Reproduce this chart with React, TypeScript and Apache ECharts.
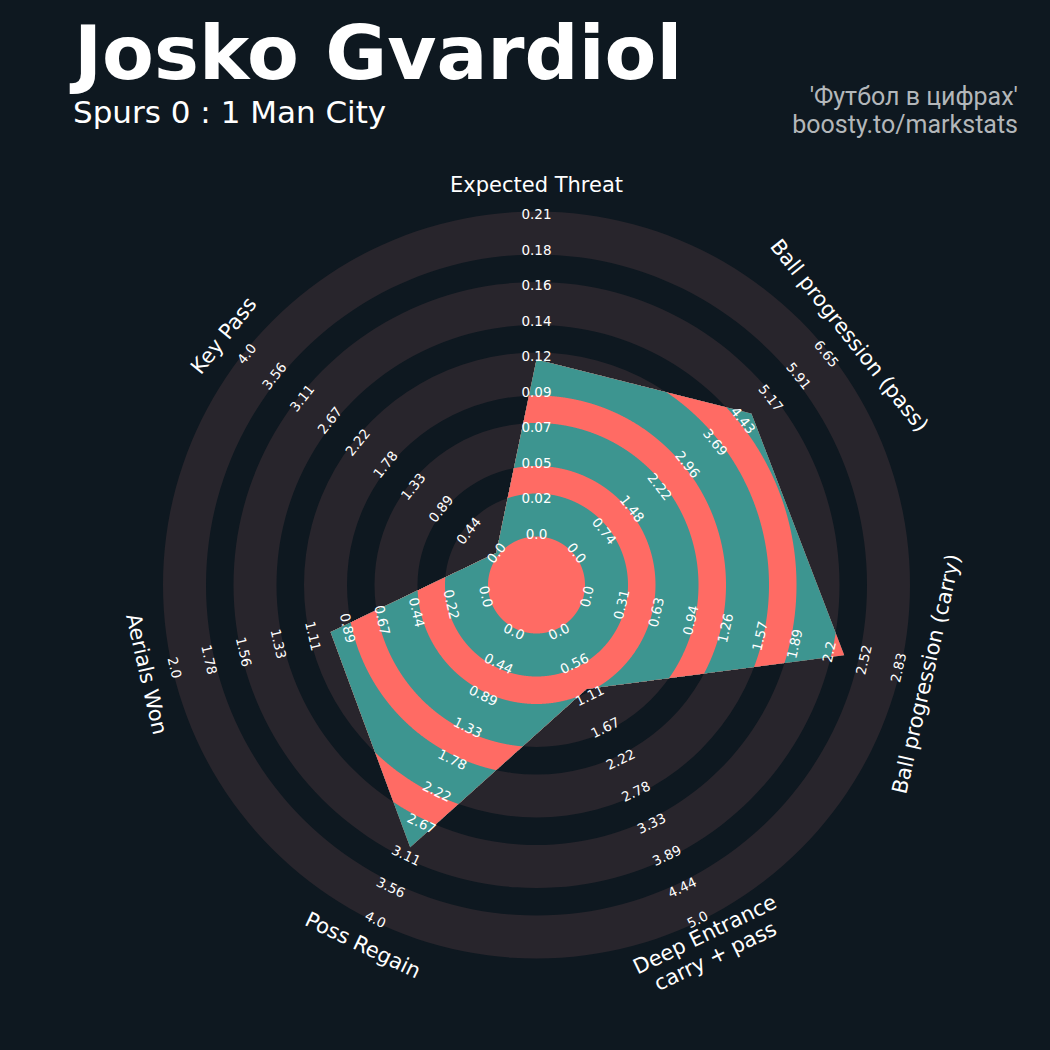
import React, { useEffect, useRef } from 'react';
import * as echarts from 'echarts';

// ---------------- data ----------------
const paramNames = [
  'Expected Threat',
  'Ball progression (pass)',
  'Ball progression (carry)',
  'Deep Entrance\ncarry + pass',
  'Poss Regain',
  'Aerials Won',
  'Key Pass',
];
const minRange = [0, 0, 0, 0, 0, 0, 0];
const maxRange = [0.2075, 6.65, 2.83, 5.0, 4.0, 2.0, 4.0];
const playerValues = [0.113, 4.65, 2.34, 1.0, 3.0, 1.0, 0.0];

const ticksExpectedThreat = ['0.0', '0.02', '0.05', '0.07', '0.09', '0.12', '0.14', '0.16', '0.18', '0.21'];
const ticksPass = ['0.0', '0.74', '1.48', '2.22', '2.96', '3.69', '4.43', '5.17', '5.91', '6.65'];
const ticksCarry = ['0.0', '0.31', '0.63', '0.94', '1.26', '1.57', '1.89', '2.2', '2.52', '2.83'];
const ticksDeepEntrance = ['0.0', '0.56', '1.11', '1.67', '2.22', '2.78', '3.33', '3.89', '4.44', '5.0'];
const ticksPossRegain = ['0.0', '0.44', '0.89', '1.33', '1.78', '2.22', '2.67', '3.11', '3.56', '4.0'];
const ticksAerials = ['0.0', '0.22', '0.44', '0.67', '0.89', '1.11', '1.33', '1.56', '1.78', '2.0'];
const ticksKeyPass = ['0.0', '0.44', '0.89', '1.33', '1.78', '2.22', '2.67', '3.11', '3.56', '4.0'];
const tickLabels = [
  ticksExpectedThreat, ticksPass, ticksCarry, ticksDeepEntrance,
  ticksPossRegain, ticksAerials, ticksKeyPass,
];

const titleText = 'Josko Gvardiol';
const subtitleText = 'Spurs 0 : 1 Man City';
const creditLines = ["'Футбол в цифрах'", 'boosty.to/markstats'];

// ---------------- layout / style ----------------
const BG = '#0e1820';
const RING = '#28252c';
const TEAL = '#3d9590';
const SALMON = '#ff6b64';
const OUTER = 373.5;
const R_MIN = 51.5;
const R_MAX = 371;
const CENTER_R = 48.5;
const BANDS = [[48.5, 91.5], [119, 162], [189.5, 232.5], [260, 303], [330.5, 373.5]];
const GAPS = [[303, 330.5], [232.5, 260], [162, 189.5], [91.5, 119]];
const LABEL_R = 400;
const FONT = 'DejaVu Sans';

function textRotation(i: number, n: number) {
  let phi = 90 - (i * 360) / n;
  while (phi <= -180) phi += 360;
  while (phi > 180) phi -= 360;
  const rot = phi >= 0 ? phi - 90 : phi + 90;
  return (rot * Math.PI) / 180;
}

export default function App() {
  const ref = useRef<HTMLDivElement>(null);
  useEffect(() => {
    document.body.style.margin = '0';
    document.body.style.background = BG;
    const chart = echarts.init(ref.current!, null, { renderer: 'svg' });
    const n = paramNames.length;

    const renderItem = (_p: any, api: any) => {
      const c = api.coord([0, 0]);
      const cx = c[0];
      const cy = c[1];
      const px = (r: number) => {
        const p = api.coord([r, 0]);
        return Math.hypot(p[0] - cx, p[1] - cy);
      };
      const children: any[] = [];
      // background rings
      BANDS.forEach(([a, b]) => {
        children.push({
          type: 'ring',
          shape: { cx, cy, r: px(b), r0: px(a) },
          style: { fill: RING },
        });
      });
      // radar polygon
      const verts = playerValues.map((v, i) => {
        const r = R_MIN + ((v - minRange[i]) / (maxRange[i] - minRange[i])) * (R_MAX - R_MIN);
        return api.coord([r, (i * 360) / n]);
      });
      const pts: number[][] = [];
      for (let i = 0; i < verts.length; i++) {
        const a = verts[i];
        const b = verts[(i + 1) % verts.length];
        const steps = 400;
        for (let s = 0; s < steps; s++) {
          const t = s / steps;
          pts.push([a[0] + (b[0] - a[0]) * t, a[1] + (b[1] - a[1]) * t]);
        }
      }
      const clip = (rc: number) =>
        pts.map((p) => {
          const dx = p[0] - cx;
          const dy = p[1] - cy;
          const d = Math.hypot(dx, dy);
          if (d <= rc) return p;
          return [cx + (dx * rc) / d, cy + (dy * rc) / d];
        });
      children.push({ type: 'polygon', shape: { points: pts }, style: { fill: TEAL } });
      GAPS.forEach(([a, b]) => {
        children.push({ type: 'polygon', shape: { points: clip(px(b)) }, style: { fill: SALMON } });
        children.push({ type: 'polygon', shape: { points: clip(px(a)) }, style: { fill: TEAL } });
      });
      children.push({ type: 'polygon', shape: { points: clip(px(CENTER_R)) }, style: { fill: SALMON } });

      // range labels
      for (let i = 0; i < n; i++) {
        const rot = textRotation(i, n);
        const labels = tickLabels[i];
        labels.forEach((lab, k) => {
          const r = R_MIN + (k / (labels.length - 1)) * (R_MAX - R_MIN);
          const p = api.coord([r, (i * 360) / n]);
          children.push({
            type: 'text',
            x: p[0],
            y: p[1],
            rotation: rot,
            style: {
              text: lab,
              fill: '#ffffff',
              font: `13.5px "${FONT}"`,
              align: 'center',
              verticalAlign: 'middle',
            },
          });
        });
        const q = api.coord([LABEL_R, (i * 360) / n]);
        children.push({
          type: 'text',
          x: q[0],
          y: q[1],
          rotation: rot,
          style: {
            text: paramNames[i],
            fill: '#ffffff',
            font: `21px "${FONT}"`,
            align: 'center',
            verticalAlign: 'middle',
            lineHeight: 24,
          },
        });
      }
      return { type: 'group', children };
    };

    chart.setOption({
      animation: false,
      backgroundColor: BG,
      polar: { center: [536.5, 585], radius: OUTER },
      radiusAxis: { type: 'value', min: 0, max: OUTER, show: false },
      angleAxis: { type: 'value', min: 0, max: 360, startAngle: 90, clockwise: true, show: false },
      series: [
        {
          type: 'custom',
          coordinateSystem: 'polar',
          silent: true,
          clip: false,
          data: [[0, 0]],
          renderItem,
        },
      ],
      graphic: [
        {
          type: 'text',
          x: 74,
          y: 53,
          style: {
            text: titleText,
            fill: '#ffffff',
            font: `bold 75.5px "${FONT}"`,
            textAlign: 'left',
            textVerticalAlign: 'middle',
          },
        },
        {
          type: 'text',
          x: 73,
          y: 112,
          style: {
            text: subtitleText,
            fill: '#ffffff',
            font: `31px "${FONT}"`,
            textAlign: 'left',
            textVerticalAlign: 'middle',
          },
        },
        {
          type: 'text',
          x: 1018,
          y: 96,
          style: {
            text: creditLines[0],
            fill: '#b3b7ba',
            font: '25px Roboto',
            textAlign: 'right',
            textVerticalAlign: 'middle',
          },
        },
        {
          type: 'text',
          x: 1018,
          y: 124,
          style: {
            text: creditLines[1],
            fill: '#b3b7ba',
            font: '25px Roboto',
            textAlign: 'right',
            textVerticalAlign: 'middle',
          },
        },
      ],
    });
    return () => chart.dispose();
  }, []);
  return <div ref={ref} style={{ width: 1050, height: 1050 }} />;
}
